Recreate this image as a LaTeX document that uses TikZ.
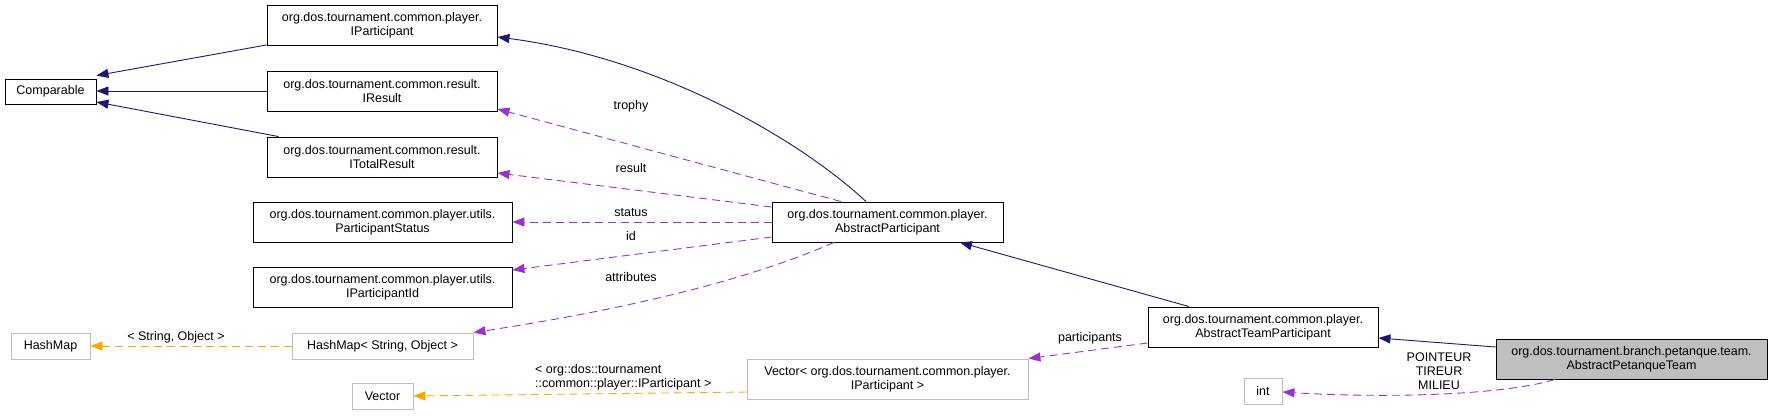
\documentclass[tikz,border=0pt]{standalone}
\usepackage{fontspec}
\setmainfont{Liberation Sans}
\usetikzlibrary{arrows.meta,calc}
\definecolor{dxnavy}{HTML}{191970}
\definecolor{dxpurple}{HTML}{9A32CD}
\definecolor{dxorange}{HTML}{FFA500}
\definecolor{dxgray}{HTML}{BFBFBF}
\begin{document}
\begin{tikzpicture}[x=1pt,y=-1pt,
  font=\fontsize{12.5}{14}\selectfont,
  cls/.style={draw=black, line width=0.9pt, fill=white, inner sep=0pt, align=center, minimum height=40pt},
  ext/.style={draw=dxgray, line width=0.9pt, fill=white, inner sep=0pt, align=center, minimum height=26pt},
  cur/.style={draw=black, line width=0.9pt, fill=dxgray, inner sep=0pt, align=center, minimum height=40pt},
  tip/.style={-{Triangle[length=12pt,width=9pt]}},
  inh/.style={tip, draw=dxnavy, line width=0.9pt},
  usage/.style={tip, draw=dxpurple, line width=0.9pt, dash pattern=on 8pt off 5pt},
  tmpl/.style={tip, draw=dxorange, line width=0.9pt, dash pattern=on 8pt off 5pt},
  lbl/.style={inner sep=0pt, align=center}
]
\useasboundingbox (0,0) rectangle (1772,415);

% nodes
\node[cls, minimum width=91pt, minimum height=25pt] (comp) at (50.5,91.5) {Comparable};
\node[cls, minimum width=230pt] (ipart) at (382,25.5) {org.dos.tournament.common.player.\\IParticipant};
\node[cls, minimum width=230pt] (ires) at (382,91) {org.dos.tournament.common.result.\\IResult};
\node[cls, minimum width=230pt] (itot) at (382,157) {org.dos.tournament.common.result.\\ITotalResult};
\node[cls, minimum width=259pt] (pstat) at (382.5,222) {org.dos.tournament.common.player.utils.\\ParticipantStatus};
\node[cls, minimum width=259pt] (pid) at (382.5,287) {org.dos.tournament.common.player.utils.\\IParticipantId};
\node[ext, minimum width=79pt] (hm) at (50.5,346) {HashMap};
\node[ext, minimum width=181pt] (hmso) at (382.5,346) {HashMap< String, Object >};
\node[ext, minimum width=61pt] (vec) at (382.5,396) {Vector};
\node[cls, minimum width=231pt] (apart) at (887.5,222) {org.dos.tournament.common.player.\\AbstractParticipant};
\node[ext, minimum width=281pt, minimum height=40pt] (vecp) at (887.5,379) {Vector< org.dos.tournament.common.player.\\IParticipant >};
\node[cls, minimum width=230pt] (atp) at (1263,327) {org.dos.tournament.common.player.\\AbstractTeamParticipant};
\node[cur, minimum width=271pt] (apt) at (1631.5,359) {org.dos.tournament.branch.petanque.team.\\AbstractPetanqueTeam};
\node[ext, minimum width=38pt] (int) at (1263,391) {int};

% inheritance edges
\draw[inh] ($(ipart.south west)+(0,-1)$) -- ($(comp.north east)+(0,-3)$);
\draw[inh] (ires.west) -- (comp.east |- ires.west);
\draw[inh] ($(itot.north west)+(12,0)$) -- ($(comp.east)+(0,10.5)$);
\draw[inh] ($(apart.north)+(-21.5,0)$) .. controls (800,140) and (660,58) .. ($(ipart.east)+(0,11.5)$);
\draw[inh] ($(atp.north)+(-74,0)$) -- ($(apart.south)+(72.5,0)$);
\draw[inh] ($(apt.west)+(0,-12)$) -- ($(atp.east)+(0,11)$);

% usage edges
\draw[usage] ($(apart.north)+(-46.5,0)$) -- ($(ires.east)+(0,18)$);
\draw[usage] ($(apart.west)+(0,-15)$) -- ($(itot.east)+(0,16)$);
\draw[usage] (apart.west) -- (pstat.east);
\draw[usage] ($(apart.west)+(0,15)$) -- ($(pid.east)+(0,-17)$);
\draw[usage] ($(apart.south)+(-53.5,0)$) .. controls (748,280) and (628,309) .. (hmso.north east);
\draw[usage] ($(atp.west)+(0,16)$) -- (vecp.north east);
\draw[usage] ($(apt.south)+(-76.5,0)$) .. controls (1500,396) and (1380,398) .. ($(int.east)+(0,1)$);

% template edges
\draw[tmpl] (hmso.west) -- (hm.east);
\draw[tmpl] ($(vecp.west)+(0,13)$) -- (vec.east);

% labels
\node[lbl] (ltrophy) at (631,106) {trophy};
\node[lbl] (lresult) at (631,168) {result};
\node[lbl] (lstatus) at (631,213) {status};
\node[lbl] (lid) at (631,236) {id};
\node[lbl] (lattr) at (631,277) {attributes};
\node[lbl] (lpart) at (1090,338) {participants};
\node[lbl] (lso) at (176,337) {< String, Object >};
\node[lbl, align=left, anchor=west] (lvec) at (535,377) {< org::dos::tournament\\::common::player::IParticipant >};
\node[lbl] (lenum) at (1439,371) {POINTEUR\\TIREUR\\MILIEU};
\end{tikzpicture}
\end{document}
